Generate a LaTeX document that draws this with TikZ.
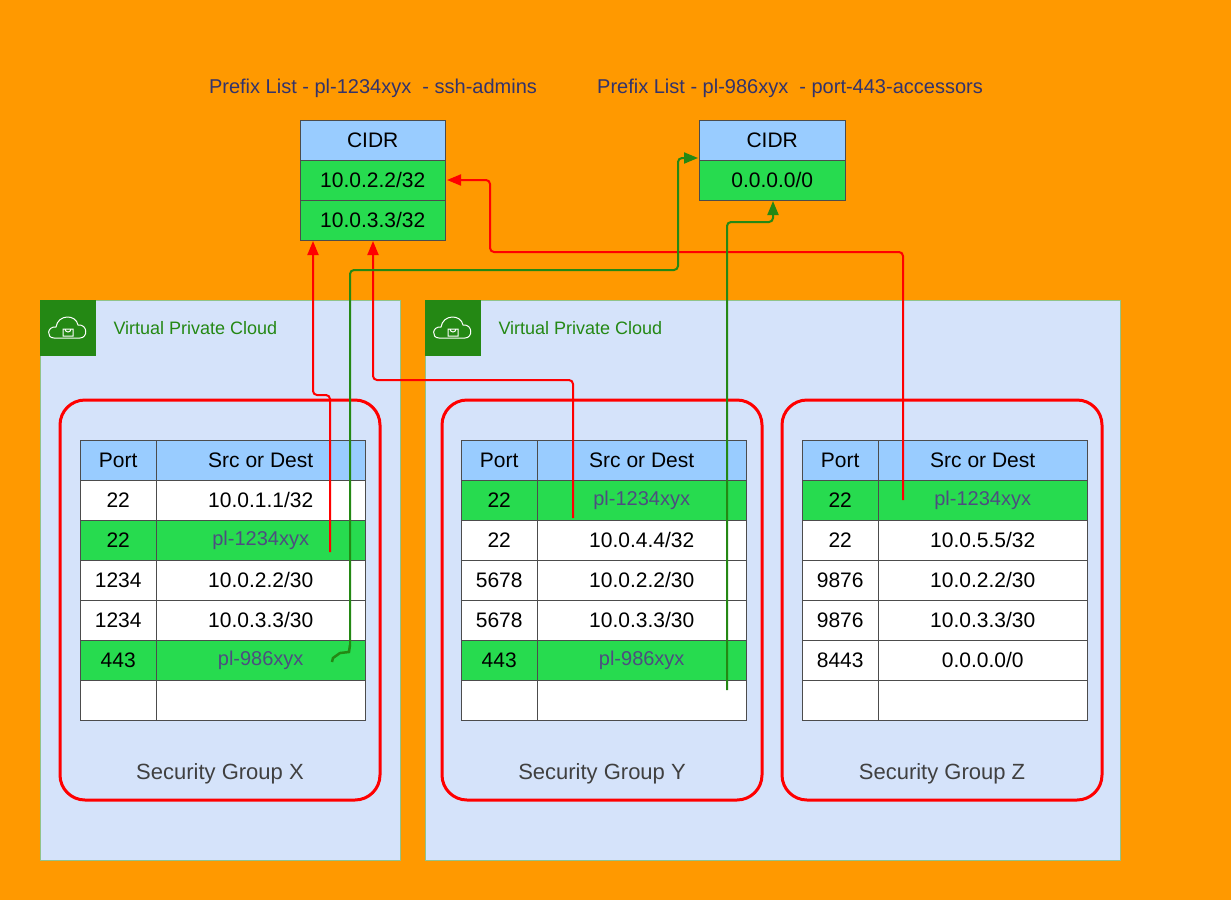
\documentclass[tikz,border=0pt]{standalone}
\usepackage{fontspec}
\setmainfont{Liberation Sans}
\usetikzlibrary{arrows.meta}
\definecolor{bg}{HTML}{FF9900}
\definecolor{vpc}{HTML}{D5E3FA}
\definecolor{vpcgreen}{HTML}{248814}
\definecolor{hdr}{HTML}{99CCFF}
\definecolor{grn}{HTML}{27DB4F}
\definecolor{pltext}{HTML}{4D4D80}
\definecolor{ttl}{HTML}{33336B}
\tikzset{
  cell/.style={draw=black!70,minimum height=40pt,inner sep=0pt,font=\fontsize{21}{24}\selectfont},
  vpcbox/.style={draw=vpcgreen!50,fill=vpc},
  sgbox/.style={draw=red,line width=3pt,rounded corners=25pt},
  redlink/.style={draw=red,line width=2pt,rounded corners=4pt,-{Triangle[length=14pt,width=11pt]}},
  grnlink/.style={draw=vpcgreen,line width=2pt,rounded corners=4pt,-{Triangle[length=14pt,width=11pt]}},
}
\begin{document}
\begin{tikzpicture}[x=1pt,y=-1pt]
\fill[bg] (0,0) rectangle (1231,900);
\useasboundingbox (0,0) rectangle (1231,900);

% clouds
\foreach \n/\xa/\xb in {v1/40/400,v2/425/1120}{
  \draw[vpcbox] (\xa,300) rectangle (\xb,860);
  \fill[vpcgreen] (\xa,300) rectangle ++(56,56);
  \draw[white,line width=1pt] (\xa+14,338) .. controls (\xa+6,338) and (\xa+7,326) .. (\xa+16,327)
     .. controls (\xa+18,314) and (\xa+36,314) .. (\xa+38,325)
     .. controls (\xa+48,324) and (\xa+48,338) .. (\xa+40,338) -- cycle;
  \draw[white,line width=1pt] (\xa+23,329) rectangle ++(10,7) (\xa+25,329) arc(180:0:3);
  \node[anchor=west,text=vpcgreen,font=\fontsize{18}{20}\selectfont] (\n) at (\xa+70,328) {Virtual Private Cloud};
}

% security groups
\foreach \g/\x in {X/60,Y/442,Z/782}{
  \draw[sgbox] (\x,400) rectangle ++(320,400);
  \node[font=\fontsize{22}{24}\selectfont,text=black!75] (sg\g) at (\x+160,774) {Security Group \g};
}

% table rows
\def\tabrow#1#2#3#4#5#6{% name, x, y, fill, port, src
  \node[cell,fill=#4,minimum width=76pt,anchor=north west] (#1p) at (#2,#3) {#5};
  \node[cell,fill=#4,minimum width=209pt,anchor=north west] (#1s) at (#2+76,#3) {#6};}
\def\pl#1{\textcolor{pltext}{\fontsize{20}{22}\selectfont #1}}
\tabrow{xa}{80}{440}{hdr}{Port}{Src or Dest}
\tabrow{xb}{80}{480}{white}{22}{10.0.1.1/32}
\tabrow{xc}{80}{520}{grn}{22}{\pl{pl-1234xyx}}
\tabrow{xd}{80}{560}{white}{1234}{10.0.2.2/30}
\tabrow{xe}{80}{600}{white}{1234}{10.0.3.3/30}
\tabrow{xf}{80}{640}{grn}{443}{\pl{pl-986xyx}}
\tabrow{xg}{80}{680}{white}{}{}
% table Y
\tabrow{ya}{461}{440}{hdr}{Port}{Src or Dest}
\tabrow{yb}{461}{480}{grn}{22}{\pl{pl-1234xyx}}
\tabrow{yc}{461}{520}{white}{22}{10.0.4.4/32}
\tabrow{yd}{461}{560}{white}{5678}{10.0.2.2/30}
\tabrow{ye}{461}{600}{white}{5678}{10.0.3.3/30}
\tabrow{yf}{461}{640}{grn}{443}{\pl{pl-986xyx}}
\tabrow{yg}{461}{680}{white}{}{}
% table Z
\tabrow{za}{802}{440}{hdr}{Port}{Src or Dest}
\tabrow{zb}{802}{480}{grn}{22}{\pl{pl-1234xyx}}
\tabrow{zc}{802}{520}{white}{22}{10.0.5.5/32}
\tabrow{zd}{802}{560}{white}{9876}{10.0.2.2/30}
\tabrow{ze}{802}{600}{white}{9876}{10.0.3.3/30}
\tabrow{zf}{802}{640}{white}{8443}{0.0.0.0/0}
\tabrow{zg}{802}{680}{white}{}{}

% prefix lists
\node[text=ttl,font=\fontsize{20}{22}\selectfont] (t1) at (373,88) {Prefix List - pl-1234xyx\ \ - ssh-admins};
\node[text=ttl,font=\fontsize{20}{22}\selectfont] (t2) at (790,88) {Prefix List - pl-986xyx\ \ - port-443-accessors};
\node[cell,fill=hdr,minimum width=145pt,anchor=north west] (c1h) at (300,120) {CIDR};
\node[cell,fill=grn,minimum width=145pt,anchor=north west] (c1a) at (300,160) {10.0.2.2/32};
\node[cell,fill=grn,minimum width=145pt,anchor=north west] (c1b) at (300,200) {10.0.3.3/32};
\node[cell,fill=hdr,minimum width=146pt,anchor=north west] (c2h) at (699,120) {CIDR};
\node[cell,fill=grn,minimum width=146pt,anchor=north west] (c2a) at (699,160) {0.0.0.0/0};

% links
\coordinate (rx) at (330,552);
\coordinate (ry) at (573,518);
\coordinate (rz) at (903,500);
\coordinate (gx) at (350,645);
\coordinate (gy) at (727,690);
\draw[redlink] (rx) -- (330,395) -- (313,395) -- (313,241);
\draw[redlink] (ry) -- (573,380) -- (373,380) -- (373,241);
\draw[redlink] (rz) -- (903,252) -- (490,252) -- (490,180) -- (447,180);
\draw[grnlink] (gx) -- (350,270) -- (678,270) -- (678,158) -- (698,158);
\draw[grnlink] (gy) -- (727,222) -- (773,222) -- (773,201);
\draw[vpcgreen,line width=2.5pt] (gx) -- (349,652) -- (340,653) -- (333,658) -- (332,662);
\end{tikzpicture}
\end{document}
